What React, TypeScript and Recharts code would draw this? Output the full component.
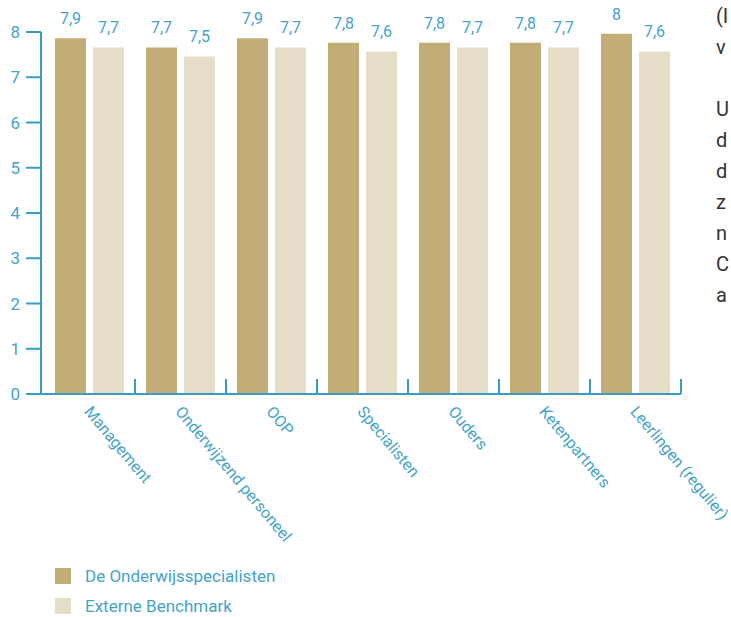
import React from 'react';
import { BarChart, Bar, XAxis, YAxis, LabelList, Legend } from 'recharts';

const categories = ['Management', 'Onderwijzend personeel', 'OOP', 'Specialisten', 'Ouders', 'Ketenpartners', 'Leerlingen (regulier)'];
const onderwijsspecialisten = [7.86, 7.66, 7.86, 7.76, 7.76, 7.76, 7.96];
const externeBenchmark = [7.66, 7.46, 7.66, 7.57, 7.66, 7.66, 7.57];
const yTicks = [0, 1, 2, 3, 4, 5, 6, 7, 8];
const sideText = ['(I', 'v', '', 'U', 'd', 'd', 'z', 'n', 'C', 'a'];

const BLUE = '#45a3ca';
const AXIS = '#3a9cc5';
const DARK = '#c2ad76';
const LIGHT = '#e5ddc7';
const FONT = 'Roboto, sans-serif';

const data = categories.map((name, i) => ({
  name,
  ods: onderwijsspecialisten[i],
  ext: externeBenchmark[i],
}));

// 7.96 -> "8", 7.86 -> "7,9"
const fmt = (v: number) => {
  const s = v.toFixed(1);
  return (s.endsWith('.0') ? s.slice(0, -2) : s).replace('.', ',');
};

// label rotated down-right, plus an inward tick on the right edge of the category
const CategoryTick = (props: any) => {
  const { x, y, payload } = props;
  const half = payload && typeof payload.offset === 'number' ? payload.offset : 45.5;
  const tx = x - 6;
  const ty = y + 18;
  return (
    <g>
      <line x1={x + half} x2={x + half} y1={y - 15} y2={y} stroke={AXIS} strokeWidth={2} />
      <text x={tx} y={ty} transform={`rotate(50, ${tx}, ${ty})`} textAnchor="start" fill={BLUE} fontSize={16} fontFamily={FONT}>
        {payload.value}
      </text>
    </g>
  );
};

const LegendBox = () => (
  <div style={{ fontFamily: FONT, fontSize: 17, color: BLUE }}>
    {[
      { label: 'De Onderwijsspecialisten', color: DARK },
      { label: 'Externe Benchmark', color: LIGHT },
    ].map((item) => (
      <div key={item.label} style={{ display: 'flex', alignItems: 'center', height: 30 }}>
        <span style={{ width: 16, height: 16, background: item.color, display: 'inline-block', marginRight: 14 }} />
        <span>{item.label}</span>
      </div>
    ))}
  </div>
);

export default function App() {
  return (
    <div style={{ position: 'absolute', left: 0, top: 0, width: 731, height: 617, overflow: 'hidden', background: '#fff' }}>
      <BarChart
        width={731}
        height={617}
        data={data}
        margin={{ top: 32, right: 50, left: 0, bottom: 123 }}
        barGap={7}
      >
        <YAxis
          domain={[0, 8]}
          ticks={yTicks}
          width={41}
          tickSize={15}
          tickMargin={6}
          axisLine={{ stroke: AXIS, strokeWidth: 2 }}
          tickLine={{ stroke: AXIS, strokeWidth: 2 }}
          tick={{ fill: BLUE, fontSize: 17, fontFamily: FONT }}
        />
        <XAxis
          dataKey="name"
          height={100}
          padding={{ left: 3, right: 0 }}
          tickSize={0}
          tickMargin={0}
          tickLine={false}
          interval={0}
          axisLine={{ stroke: AXIS, strokeWidth: 2 }}
          tick={<CategoryTick />}
        />
        <Bar dataKey="ods" name="De Onderwijsspecialisten" fill={DARK} barSize={31} isAnimationActive={false}>
          <LabelList dataKey="ods" position="top" offset={14} formatter={(v: any) => fmt(Number(v))} fill={BLUE} fontSize={16} fontFamily={FONT} />
        </Bar>
        <Bar dataKey="ext" name="Externe Benchmark" fill={LIGHT} barSize={31} isAnimationActive={false}>
          <LabelList dataKey="ext" position="top" offset={14} formatter={(v: any) => fmt(Number(v))} fill={BLUE} fontSize={16} fontFamily={FONT} />
        </Bar>
        <Legend
          layout="horizontal"
          verticalAlign="middle"
          align="center"
          content={<LegendBox />}
          wrapperStyle={{ position: 'absolute', left: 55, top: 561, width: 320 }}
        />
      </BarChart>
      <div style={{ position: 'absolute', left: 716, top: 1, fontFamily: FONT, fontSize: 20, color: '#333', lineHeight: '31px' }}>
        {sideText.map((t, i) => (
          <div key={i} style={{ height: 31, whiteSpace: 'pre' }}>{t || ' '}</div>
        ))}
      </div>
    </div>
  );
}
